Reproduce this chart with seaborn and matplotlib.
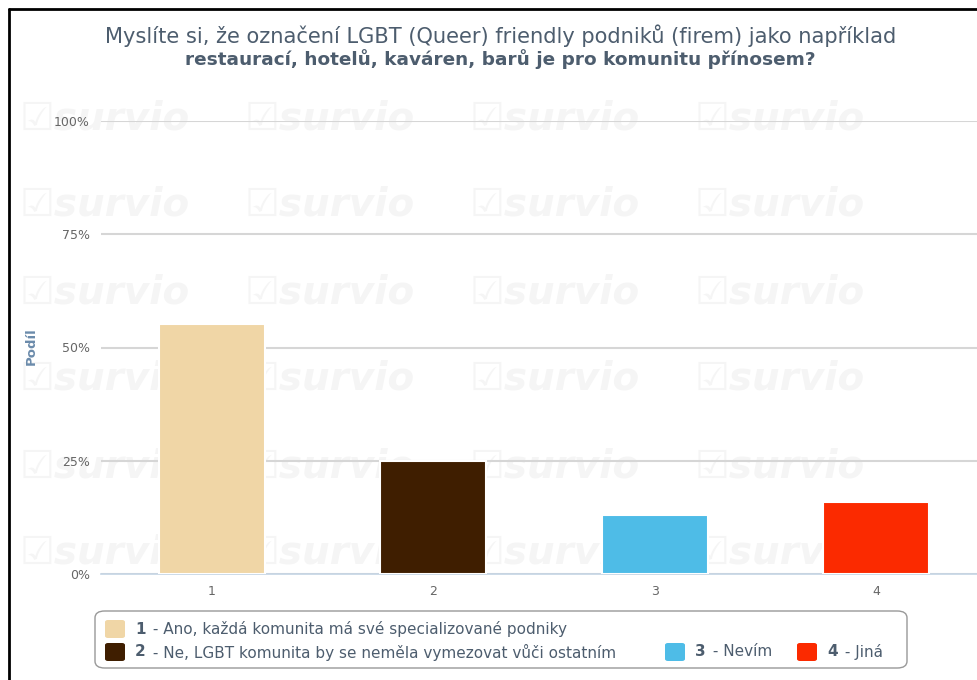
import numpy as np
import pandas as pd
import seaborn as sns
import matplotlib.pyplot as plt
from matplotlib.patches import FancyBboxPatch
from matplotlib.ticker import PercentFormatter, FixedLocator

categories = ["1", "2", "3", "4"]
shares = [0.552, 0.249, 0.131, 0.159]
colors = ["#f0d6a6", "#3f1e00", "#4ebce7", "#fb2a00"]
legend_labels = [
    " - Ano, každá komunita má své specializované podniky",
    " - Ne, LGBT komunita by se neměla vymezovat vůči ostatním",
    " - Nevím",
    " - Jiná",
]
title_1 = "Myslíte si, že označení LGBT (Queer) friendly podniků (firem) jako například"
title_2 = "restaurací, hotelů, kaváren, barů je pro komunitu přínosem?"

df = pd.DataFrame({"Odpověď": categories, "Podíl": shares})

sns.set_style("white")
plt.rcParams["font.family"] = ["DejaVu Sans"]

W, H = 977, 680
fig = plt.figure(figsize=(W / 100, H / 100), dpi=100)

def fx(px):
    return px / W

def fy(py):
    return 1 - py / H

# axes spans past the right edge like in the screenshot
ax = fig.add_axes([fx(101), fy(574), fx(987) - fx(101), fy(121) - fy(574)])
ax.patch.set_alpha(0)

# faint watermark
for row_y in [118, 205, 292, 379, 466, 553]:
    for col_x in [20, 245, 470, 695]:
        fig.text(fx(col_x), fy(row_y), "☑survio", fontsize=28, color="#f5f5f5",
                 fontweight="bold", fontstyle="italic", va="center", ha="left",
                 zorder=-5)

sns.barplot(data=df, x="Odpověď", y="Podíl", hue="Odpověď", palette=colors,
            saturation=1, width=0.48, edgecolor="white", linewidth=1.5,
            legend=False, ax=ax, zorder=3)

ax.set_ylim(0, 1)
ax.set_xlim(-0.5, 3.5)
ax.yaxis.set_major_locator(FixedLocator([0, 0.25, 0.5, 0.75, 1.0]))
ax.yaxis.set_major_formatter(PercentFormatter(1.0, decimals=0))
ax.grid(axis="y", color="#d6d6d6", linewidth=1.5, zorder=0)
ax.set_axisbelow(True)
for s in ["top", "right", "left"]:
    ax.spines[s].set_visible(False)
ax.spines["bottom"].set_color("#c4d4e4")
ax.spines["bottom"].set_linewidth(1.2)
ax.tick_params(axis="y", length=0, labelsize=9, labelcolor="#666666", pad=8)
ax.tick_params(axis="x", length=0, labelsize=9, labelcolor="#666666", pad=8)
ax.set_xticks([0.5, 1.5, 2.5], minor=True)
ax.tick_params(axis="x", which="minor", length=5, color="#c4d4e4", width=1.2)
ax.set_xlabel("")
ax.set_ylabel("")
fig.text(fx(31), fy(346), "Podíl", rotation=90, fontsize=9.5, fontweight="bold",
         color="#6b8bab", ha="center", va="center")

# title
fig.text(fx(501), fy(36), title_1, fontsize=15.1, color="#4d5d6e", ha="center", va="center")
fig.text(fx(500), fy(59), title_2, fontsize=13.3, color="#4d5d6e", ha="center", va="center",
         fontweight="bold")

# frame
fig.add_artist(plt.Line2D([fx(9), 1], [fy(9), fy(9)], color="black", lw=2))
fig.add_artist(plt.Line2D([fx(9), fx(9)], [fy(9), 0], color="black", lw=2))

# legend
box = FancyBboxPatch((fx(95), fy(668)), fx(907) - fx(95), fy(611) - fy(668),
                     boxstyle="round,pad=0,rounding_size=0.01",
                     transform=fig.transFigure, facecolor="white",
                     edgecolor="#999999", lw=1)
fig.add_artist(box)
legend_pos = [(105, 629), (105, 652), (665, 652), (797, 652)]
for i, (px, py) in enumerate(legend_pos):
    sw = FancyBboxPatch((fx(px), fy(py + 9)), fx(20), fy(0) - fy(18),
                        boxstyle="round,pad=0,rounding_size=0.003",
                        transform=fig.transFigure, facecolor=colors[i],
                        edgecolor="none")
    fig.add_artist(sw)
    fig.text(fx(px + 30), fy(py), categories[i], fontsize=11, fontweight="bold",
             color="#4d5d6e", ha="left", va="center")
    fig.text(fx(px + 43), fy(py), legend_labels[i], fontsize=11,
             color="#4d5d6e", ha="left", va="center")

fig.savefig("out.png", dpi=100)
